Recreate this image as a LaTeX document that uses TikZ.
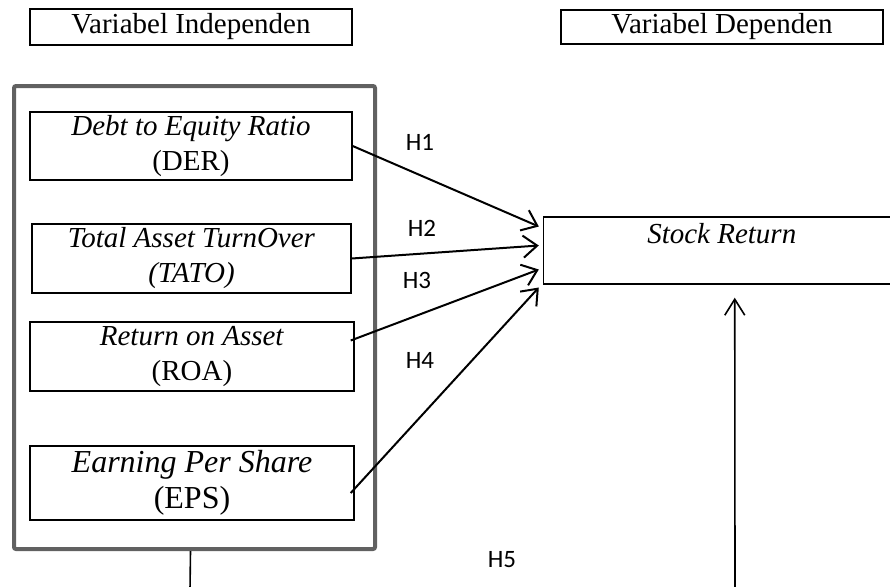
\documentclass[tikz,border=0pt]{standalone}
\usepackage{fontspec}
\setmainfont{Liberation Serif}
\newfontfamily\hfont{Carlito}
\usetikzlibrary{positioning,arrows.meta,calc}

\begin{document}
\begin{tikzpicture}[x=0.5pt,y=-0.5pt,
	varbox/.style={draw, line width=0.7pt, inner sep=0pt, align=center, font=\fontsize{14.5}{17.5}\selectfont},
	hlabel/.style={font=\hfont\fontsize{12.5}{14}\selectfont},
	link/.style={-{Straight Barb[length=7pt,width=11pt,line width=1pt]}, line width=1pt}]
	\useasboundingbox (0,0) rectangle (890,586);

	\node[varbox, minimum width=161pt, minimum height=18pt] (indep) at (191,27) {Variabel Independen};
	\node[varbox, minimum width=161pt, minimum height=17pt] (dep) at (722,27) {Variabel Dependen};

	\node[draw=black!62, line width=2pt, rounded corners=1pt, minimum width=180.5pt, minimum height=231.5pt] (group) at (194.5,317.5) {};

	\node[varbox, minimum width=161pt, minimum height=34pt] (der) at (191,146) {\textit{Debt to Equity Ratio}\\(DER)};
	\node[varbox, minimum width=159.5pt, minimum height=34.5pt] (tato) at (191.5,258.5) {\textit{Total Asset TurnOver}\\\textit{(TATO)}};
	\node[varbox, minimum width=162pt, minimum height=34.5pt] (roa) at (192,356.5) {\textit{Return on Asset}\\(ROA)};
	\node[varbox, minimum width=162pt, minimum height=37pt, font=\fontsize{16}{18}\selectfont] (eps) at (192,483) {\textit{Earning Per Share}\\(EPS)};

	\node[varbox, minimum width=178.25pt, minimum height=33.5pt] (sr) at (721.75,250.5) {\textit{Stock Return}\\\mbox{}};

	% arrow ends on the stock return box
	\coordinate (in1) at ($(sr.west)+(-4,-24)$);
	\coordinate (in2) at ($(sr.west)+(-4,-5)$);
	\coordinate (in3) at ($(sr.west)+(-4,19)$);
	\coordinate (in4) at ($(sr.west)+(-4,37)$);
	\coordinate (roaout) at ($(roa.east)+(-4,-16)$);
	\coordinate (epsout) at ($(eps.east)+(-4,10)$);

	\draw[link] (der.east) -- (in1);
	\draw[link] (tato.east) -- (in2);
	\draw[link] (roaout) -- (in3);
	\draw[link] (epsout) -- (in4);

	% H5 path, cut at the page edge
	\coordinate (grpout) at ($(group.south)+(-4,0)$);
	\coordinate (grpend) at (190,590);
	\coordinate (srfoot) at (735,590);
	\coordinate (srin) at ($(sr.south)+(13,13)$);
	\draw[line width=0.8pt] (grpout) -- (grpend);
	\draw[line width=0.8pt, -{Straight Barb[length=8pt,width=10pt,line width=0.8pt]}] (srfoot) -- (srin);

	\node[hlabel] (h1) at (420,142) {H1};
	\node[hlabel] (h2) at (422,228) {H2};
	\node[hlabel] (h3) at (417,280) {H3};
	\node[hlabel] (h4) at (420,360) {H4};
	\node[hlabel] (h5) at (502,560) {H5};
\end{tikzpicture}
\end{document}
